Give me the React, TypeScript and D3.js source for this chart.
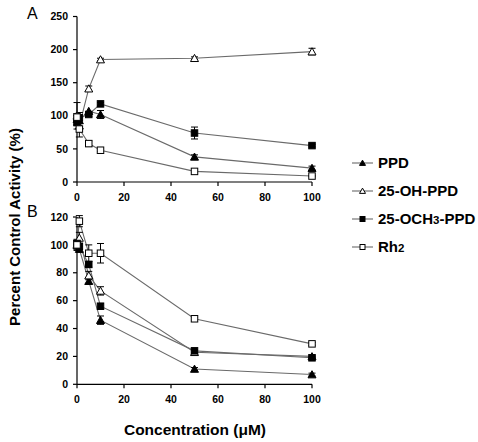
import React from "react";
import * as d3 from "d3";

const concentrations = [0, 1, 5, 10, 50, 100];
const seriesNames = ["PPD", "25-OH-PPD", "25-OCH3-PPD", "Rh2"];
const markerKinds = ["triFilled", "triOpen", "sqFilled", "sqOpen"];

// Panel A
const aPPD = [95, 93, 107, 102, 38, 21];
const aOH = [100, 85, 141, 185, 187, 197];
const aOCH3 = [90, 97, 102, 118, 74, 55];
const aRh2 = [98, 80, 58, 48, 16, 9];
const aPPDErr = [8, 0, 0, 6, 3, 3];
const aOHErr = [20, 5, 4, 2, 2, 5];
const aOCH3Err = [5, 8, 3, 2, 9, 2];
const aRh2Err = [5, 12, 4, 2, 2, 1];

// Panel B
const bPPD = [100, 97, 74, 46, 11, 7];
const bOH = [100, 105, 78, 67, 23, 20];
const bOCH3 = [101, 99, 86, 56, 24, 19];
const bRh2 = [100, 117, 94, 94, 47, 29];
const bPPDErr = [3, 2, 2, 3, 1, 1];
const bOHErr = [3, 4, 3, 3, 1, 1];
const bOCH3Err = [2, 2, 2, 2, 1, 1];
const bRh2Err = [4, 4, 6, 7, 1, 1];

const xTicks = [0, 20, 40, 60, 80, 100];
const aYTicks = [0, 50, 100, 150, 200, 250];
const bYTicks = [0, 20, 40, 60, 80, 100, 120];

const FONT = "'Liberation Sans', Arial, Helvetica, sans-serif";
const LINE = "#6a6a6a";

function Marker({ kind, x, y, s }: { kind: string; x: number; y: number; s: number }) {
  if (kind === "sqFilled" || kind === "sqOpen") {
    return (
      <rect
        x={x - s / 2}
        y={y - s / 2}
        width={s}
        height={s}
        fill={kind === "sqFilled" ? "#000" : "#fff"}
        stroke="#000"
        strokeWidth={1}
      />
    );
  }
  const h = s * 0.95;
  const pts = `${x},${y - h / 2 - 0.5} ${x - s / 2 - 0.5},${y + h / 2} ${x + s / 2 + 0.5},${y + h / 2}`;
  return (
    <polygon points={pts} fill={kind === "triFilled" ? "#000" : "#fff"} stroke="#000" strokeWidth={1} />
  );
}

function Panel({
  yDomain,
  yRange,
  yTicks,
  values,
  errors,
  letter,
  letterY,
}: {
  yDomain: [number, number];
  yRange: [number, number];
  yTicks: number[];
  values: number[][];
  errors: number[][];
  letter: string;
  letterY: number;
}) {
  const x = d3.scaleLinear().domain([0, 100]).range([77, 312]);
  const y = d3.scaleLinear().domain(yDomain).range(yRange);
  const line = d3
    .line<number>()
    .x((_, i) => x(concentrations[i]))
    .y((d) => y(d));
  const x0 = x(0);
  const y0 = y(yDomain[0]);
  return (
    <g>
      <text x={27} y={letterY} fontFamily={FONT} fontSize={16}>
        {letter}
      </text>
      {/* axes */}
      <line x1={x0} x2={x0} y1={y0} y2={y(yDomain[1])} stroke="#000" strokeWidth={1.2} />
      <line x1={x0} x2={x(100)} y1={y0} y2={y0} stroke="#000" strokeWidth={1.2} />
      {yTicks.map((t) => (
        <g key={"y" + t}>
          <line x1={x0 - 4} x2={x0} y1={y(t)} y2={y(t)} stroke="#000" strokeWidth={1.2} />
          <text
            x={x0 - 9}
            y={y(t)}
            dy="0.35em"
            textAnchor="end"
            fontFamily={FONT}
            fontWeight="bold"
            fontSize={10.5}
          >
            {t}
          </text>
        </g>
      ))}
      {xTicks.map((t) => (
        <g key={"x" + t}>
          <line x1={x(t)} x2={x(t)} y1={y0} y2={y0 + 4} stroke="#000" strokeWidth={1.2} />
          <text
            x={x(t)}
            y={y0 + 15}
            dy="0.35em"
            textAnchor="middle"
            fontFamily={FONT}
            fontWeight="bold"
            fontSize={10.5}
          >
            {t}
          </text>
        </g>
      ))}
      {/* lines */}
      {values.map((vals, si) => (
        <path key={"l" + si} d={line(vals) || ""} fill="none" stroke={LINE} strokeWidth={1.1} />
      ))}
      {/* error bars */}
      {values.map((vals, si) =>
        vals.map((v, i) => {
          const e = errors[si][i];
          if (!e) return null;
          const cx = x(concentrations[i]);
          return (
            <g key={"e" + si + "-" + i} stroke="#000" strokeWidth={1}>
              <line x1={cx} x2={cx} y1={y(v - e)} y2={y(v + e)} />
              <line x1={cx - 3.5} x2={cx + 3.5} y1={y(v + e)} y2={y(v + e)} />
              <line x1={cx - 3.5} x2={cx + 3.5} y1={y(v - e)} y2={y(v - e)} />
            </g>
          );
        })
      )}
      {/* markers */}
      {values.map((vals, si) =>
        vals.map((v, i) => (
          <Marker
            key={"m" + si + "-" + i}
            kind={markerKinds[si]}
            x={x(concentrations[i])}
            y={y(v)}
            s={si < 2 ? 7 : 6.5}
          />
        ))
      )}
    </g>
  );
}

function LegendLabel({ name }: { name: string }) {
  if (name === "25-OCH3-PPD") {
    return (
      <>
        25-OCH<tspan fontSize={11.5}>3</tspan>-PPD
      </>
    );
  }
  if (name === "Rh2") {
    return (
      <>
        Rh<tspan fontSize={11.5}>2</tspan>
      </>
    );
  }
  return <>{name}</>;
}

export default function App() {
  const legendY = [163, 191, 219, 247];
  return (
    <svg
      width={478}
      height={442}
      style={{ position: "absolute", left: 0, top: 0, background: "#fff" }}
    >
      <rect x={0} y={0} width={478} height={442} fill="#fff" />
      <Panel
        yDomain={[0, 250]}
        yRange={[182, 16.5]}
        yTicks={aYTicks}
        values={[aPPD, aOH, aOCH3, aRh2]}
        errors={[aPPDErr, aOHErr, aOCH3Err, aRh2Err]}
        letter="A"
        letterY={19}
      />
      <Panel
        yDomain={[0, 120]}
        yRange={[384.3, 217]}
        yTicks={bYTicks}
        values={[bPPD, bOH, bOCH3, bRh2]}
        errors={[bPPDErr, bOHErr, bOCH3Err, bRh2Err]}
        letter="B"
        letterY={217}
      />
      <text
        transform="translate(20,227) rotate(-90)"
        textAnchor="middle"
        fontFamily={FONT}
        fontWeight="bold"
        fontSize={15}
      >
        Percent Control Activity (%)
      </text>
      <text
        x={195}
        y={435}
        textAnchor="middle"
        fontFamily={FONT}
        fontWeight="bold"
        fontSize={15.5}
      >
        Concentration (μM)
      </text>
      {seriesNames.map((n, i) => (
        <g key={n}>
          <line x1={352} x2={373} y1={legendY[i]} y2={legendY[i]} stroke={LINE} strokeWidth={1.1} />
          <Marker kind={markerKinds[i]} x={362.5} y={legendY[i]} s={5} />
          <text
            x={378}
            y={legendY[i]}
            dy="0.36em"
            fontFamily={FONT}
            fontWeight="bold"
            fontSize={15}
          >
            <LegendLabel name={n} />
          </text>
        </g>
      ))}
    </svg>
  );
}
